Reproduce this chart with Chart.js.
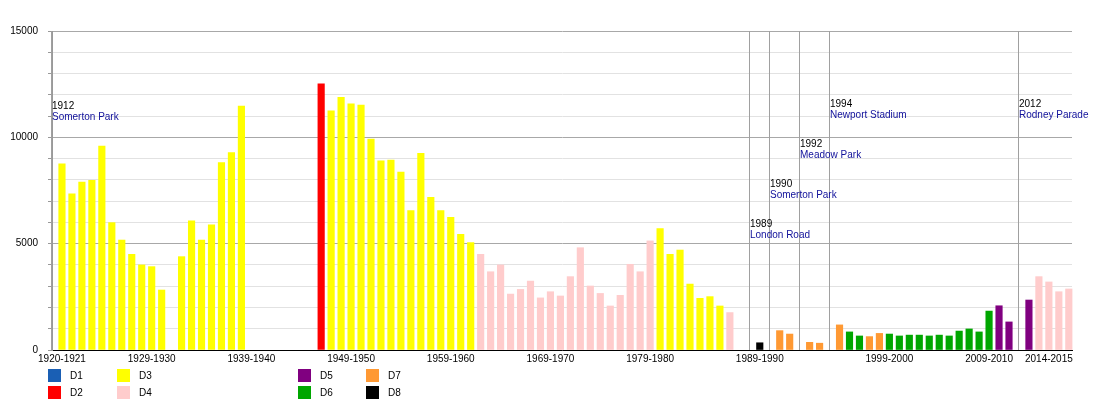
<!DOCTYPE html>
<html>
  <head>
    <meta charset="UTF-8">
    <title>Newport County average league attendance</title>
    <script src="https://cdn.jsdelivr.net/npm/chart.js@4.4.0/dist/chart.umd.min.js"></script>
    <style>
      html, body { margin: 0; padding: 0; background: #fff; }
      #wrap { width: 1100px; height: 400px; }
    </style>
  </head>
  <body>
    <div id='wrap'><canvas id='attendanceChart'></canvas></div>

    <script>
      // One slot per season. The year-only slots are where the ground-change lines sit.
      const seasons = [
        '1920-1921', '1921-1922', '1922-1923', '1923-1924', '1924-1925', '1925-1926', '1926-1927', '1927-1928', '1928-1929', '1929-1930',
        '1930-1931', '1931-1932', '1932-1933', '1933-1934', '1934-1935', '1935-1936', '1936-1937', '1937-1938', '1938-1939', '1939-1940',
        '1940-1941', '1941-1942', '1942-1943', '1943-1944', '1944-1945', '1945-1946', '1946-1947', '1947-1948', '1948-1949', '1949-1950',
        '1950-1951', '1951-1952', '1952-1953', '1953-1954', '1954-1955', '1955-1956', '1956-1957', '1957-1958', '1958-1959', '1959-1960',
        '1960-1961', '1961-1962', '1962-1963', '1963-1964', '1964-1965', '1965-1966', '1966-1967', '1967-1968', '1968-1969', '1969-1970',
        '1970-1971', '1971-1972', '1972-1973', '1973-1974', '1974-1975', '1975-1976', '1976-1977', '1977-1978', '1978-1979', '1979-1980',
        '1980-1981', '1981-1982', '1982-1983', '1983-1984', '1984-1985', '1985-1986', '1986-1987', '1987-1988', '1988-1989', '1989',
        '1989-1990', '1990', '1990-1991', '1991-1992', '1992', '1992-1993', '1993-1994', '1994', '1994-1995', '1995-1996',
        '1996-1997', '1997-1998', '1998-1999', '1999-2000', '2000-2001', '2001-2002', '2002-2003', '2003-2004', '2004-2005', '2005-2006',
        '2006-2007', '2007-2008', '2008-2009', '2009-2010', '2010-2011', '2011-2012', '2012', '2012-2013', '2013-2014', '2014-2015',
        '2015-2016', '2016-2017'
      ];

      const attendance = [
        8750, 7340, 7900, 7980, 9590, 5990, 5170, 4500, 4000, 3920,
        2820, null, 4390, 6070, 5170, 5880, 8810, 9280, 11470, null,
        null, null, null, null, null, null, 12510, 11250, 11880, 11570,
        11520, 9920, 8900, 8930, 8370, 6550, 9250, 7180, 6550, 6240,
        5440, 5050, 4500, 3680, 4000, 2630, 2850, 3240, 2450, 2740,
        2540, 3450, 4810, 3010, 2660, 2070, 2570, 4030, 3680, 5130,
        5710, 4500, 4700, 3100, 2430, 2510, 2070, 1760, null, null,
        340, null, 910, 750, null, 360, 320, null, 1180, 850,
        660, 630, 780, 750, 660, 700, 700, 660, 700, 660,
        890, 990, 850, 1830, 2080, 1320, null, 2350, 3450, 3200,
        2740, 2870
      ];

      const divisions = [
        'D3', 'D3', 'D3', 'D3', 'D3', 'D3', 'D3', 'D3', 'D3', 'D3',
        'D3', '', 'D3', 'D3', 'D3', 'D3', 'D3', 'D3', 'D3', '',
        '', '', '', '', '', '', 'D2', 'D3', 'D3', 'D3',
        'D3', 'D3', 'D3', 'D3', 'D3', 'D3', 'D3', 'D3', 'D3', 'D3',
        'D3', 'D3', 'D4', 'D4', 'D4', 'D4', 'D4', 'D4', 'D4', 'D4',
        'D4', 'D4', 'D4', 'D4', 'D4', 'D4', 'D4', 'D4', 'D4', 'D4',
        'D3', 'D3', 'D3', 'D3', 'D3', 'D3', 'D3', 'D4', '', '',
        'D8', '', 'D7', 'D7', '', 'D7', 'D7', '', 'D7', 'D6',
        'D6', 'D7', 'D7', 'D6', 'D6', 'D6', 'D6', 'D6', 'D6', 'D6',
        'D6', 'D6', 'D6', 'D6', 'D5', 'D5', '', 'D5', 'D4', 'D4',
        'D4', 'D4'
      ];

      const divisionNames = ['D1', 'D2', 'D3', 'D4', 'D5', 'D6', 'D7', 'D8'];
      const divisionColors = ['#1a5fb4', '#ff0000', '#ffff00', '#ffcccc', '#800080', '#00a600', '#ff9933', '#000000'];

      const tickLabels = ['1920-1921', '1929-1930', '1939-1940', '1949-1950', '1959-1960', '1969-1970',
                          '1979-1980', '1989-1990', '1999-2000', '2009-2010', '2014-2015'];

      // Ground moves. 1912 is not a slot, so indexOf gives -1 which is the left edge of the axis.
      const groundYears = ['1912', '1989', '1990', '1992', '1994', '2012'];
      const groundNames = ['Somerton Park', 'London Road', 'Somerton Park', 'Meadow Park', 'Newport Stadium', 'Rodney Parade'];
      const groundLabelLevels = [11450, 5925, 7780, 9660, 11570, 11570];

      const FONT = 'Liberation Sans, Arial, Helvetica, sans-serif';

      const datasets = divisionNames.map((name, i) => {
        const data = [];
        seasons.forEach((s, k) => {
          if (divisions[k] === name && attendance[k] !== null) {
            data.push({ x: k, y: attendance[k] });
          }
        });
        return {
          label: name,
          data: data,
          backgroundColor: divisionColors[i],
          borderWidth: 0,
          barThickness: 6.5,
          grouped: false,
          clip: false
        };
      });

      const groundMarkers = {
        id: 'groundMarkers',
        beforeDatasetsDraw(chart) {
          const { ctx, chartArea, scales } = chart;
          ctx.save();
          ctx.strokeStyle = '#a0a0a0';
          ctx.lineWidth = 1;
          for (let year of groundYears) {
            const x = Math.round(scales.x.getPixelForValue(seasons.indexOf(year))) - 0.5;
            ctx.beginPath();
            ctx.moveTo(x, chartArea.top);
            ctx.lineTo(x, chartArea.bottom);
            ctx.stroke();
          }
          ctx.restore();
        },
        afterDatasetsDraw(chart) {
          const { ctx, scales } = chart;
          ctx.save();
          ctx.font = '10px ' + FONT;
          ctx.textAlign = 'left';
          ctx.textBaseline = 'middle';
          groundYears.forEach((year, i) => {
            const x = Math.round(scales.x.getPixelForValue(seasons.indexOf(year)));
            const y = scales.y.getPixelForValue(groundLabelLevels[i]);
            ctx.fillStyle = '#000';
            ctx.fillText(year, x, y);
            ctx.fillStyle = '#10109a';
            ctx.fillText(groundNames[i], x, y + 11);
          });
          ctx.restore();
        }
      };

      // Key under the chart, two rows, filled column by column.
      const divisionKey = {
        id: 'divisionKey',
        afterDraw(chart) {
          const ctx = chart.ctx;
          const colX = [48, 117, 298, 366];
          const rowY = [369, 386];
          ctx.save();
          ctx.font = '10px ' + FONT;
          ctx.textBaseline = 'middle';
          ctx.textAlign = 'left';
          chart.data.datasets.forEach((ds, i) => {
            const x = colX[Math.floor(i / 2)];
            const y = rowY[i % 2];
            ctx.fillStyle = ds.backgroundColor;
            ctx.fillRect(x, y, 13, 13);
            ctx.fillStyle = '#000';
            ctx.fillText(ds.label, x + 22, y + 7);
          });
          ctx.restore();
        }
      };

      const attendanceCtx = document.getElementById('attendanceChart').getContext('2d');
      const attendanceChart = new Chart(attendanceCtx, {
        type: 'bar',
        data: { datasets: datasets },
        plugins: [groundMarkers, divisionKey],
        options: {
          responsive: true,
          maintainAspectRatio: false,
          animation: false,
          layout: { padding: { top: 31, right: 28, left: 0, bottom: 0 } },
          plugins: {
            legend: { display: false },
            tooltip: { enabled: false }
          },
          scales: {
            x: {
              type: 'linear',
              offset: false,
              min: -1,
              max: 101.32,
              grid: { display: false, drawTicks: false, tickLength: 0 },
              border: { display: true, color: '#000' },
              ticks: {
                autoSkip: false,
                maxRotation: 0,
                padding: 3,
                color: '#000',
                font: { family: FONT, size: 10 },
                callback: (value) => seasons[value]
              },
              afterBuildTicks: (scale) => {
                scale.ticks = tickLabels.map(label => ({ value: seasons.indexOf(label) }));
              },
              afterFit: (scale) => { scale.height = 50; }
            },
            y: {
              min: 0,
              max: 15000,
              grid: {
                color: (c) => c.tick.value % 5000 === 0 ? '#a8a8a8' : '#e2e2e2',
                tickColor: '#999',
                tickLength: 4
              },
              border: { display: true, color: '#999' },
              ticks: {
                stepSize: 1000,
                padding: 10,
                color: '#000',
                font: { family: FONT, size: 10 },
                callback: (v) => v % 5000 === 0 ? v : ''
              },
              afterFit: (scale) => { scale.width = 52; }
            }
          }
        }
      });
    </script>
  </body>
</html>
